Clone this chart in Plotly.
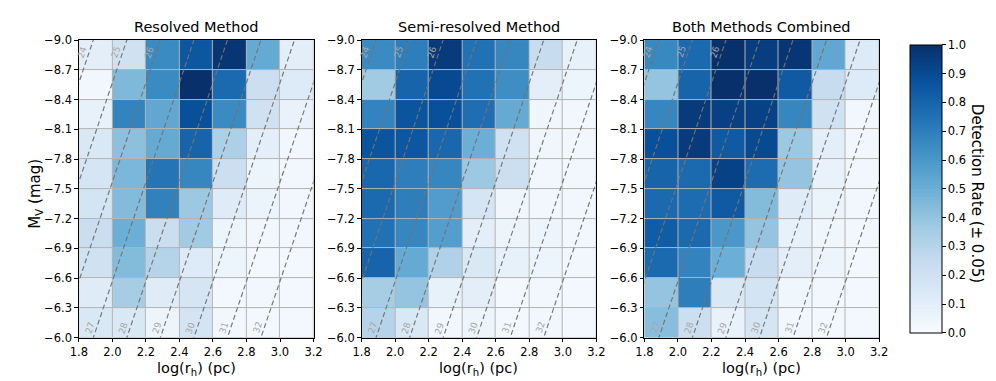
import plotly.graph_objects as go

# ---- data ----
x_edges = [1.8, 2.0, 2.2, 2.4, 2.6, 2.8, 3.0, 3.2]
x_centers = [1.9, 2.1, 2.3, 2.5, 2.7, 2.9, 3.1]
y_ticks = [-9.0, -8.7, -8.4, -8.1, -7.8, -7.5, -7.2, -6.9, -6.6, -6.3, -6.0]
y_centers = [-8.85, -8.55, -8.25, -7.95, -7.65, -7.35, -7.05, -6.75, -6.45, -6.15]

resolved = [
    [0.10, 0.20, 0.65, 0.85, 0.98, 0.52, 0.10],
    [0.03, 0.45, 0.65, 1.00, 0.78, 0.22, 0.13],
    [0.08, 0.68, 0.53, 0.88, 0.65, 0.20, 0.07],
    [0.15, 0.42, 0.52, 0.80, 0.33, 0.10, 0.03],
    [0.17, 0.46, 0.74, 0.67, 0.22, 0.05, 0.03],
    [0.18, 0.44, 0.69, 0.38, 0.12, 0.06, 0.03],
    [0.23, 0.50, 0.23, 0.37, 0.05, 0.03, 0.03],
    [0.20, 0.44, 0.30, 0.13, 0.05, 0.02, 0.02],
    [0.12, 0.35, 0.12, 0.17, 0.02, 0.03, 0.02],
    [0.15, 0.15, 0.05, 0.18, 0.03, 0.02, 0.02],
]
semi_resolved = [
    [0.65, 0.70, 0.96, 0.75, 0.67, 0.24, 0.08],
    [0.37, 0.80, 0.90, 0.75, 0.64, 0.10, 0.05],
    [0.68, 0.86, 0.88, 0.76, 0.52, 0.04, 0.03],
    [0.86, 0.85, 0.79, 0.50, 0.20, 0.04, 0.03],
    [0.79, 0.70, 0.67, 0.38, 0.22, 0.03, 0.03],
    [0.78, 0.70, 0.58, 0.17, 0.04, 0.03, 0.03],
    [0.75, 0.67, 0.57, 0.10, 0.05, 0.05, 0.03],
    [0.80, 0.52, 0.32, 0.15, 0.08, 0.05, 0.03],
    [0.35, 0.40, 0.08, 0.10, 0.02, 0.03, 0.02],
    [0.30, 0.15, 0.03, 0.05, 0.02, 0.03, 0.02],
]
combined = [
    [0.66, 0.78, 1.00, 0.95, 0.98, 0.53, 0.13],
    [0.40, 0.80, 1.00, 1.00, 0.84, 0.24, 0.13],
    [0.67, 0.96, 0.94, 0.93, 0.67, 0.20, 0.03],
    [0.88, 0.96, 0.84, 0.90, 0.38, 0.10, 0.03],
    [0.80, 0.78, 0.93, 0.77, 0.40, 0.07, 0.03],
    [0.78, 0.77, 0.84, 0.44, 0.12, 0.06, 0.03],
    [0.83, 0.78, 0.60, 0.40, 0.08, 0.04, 0.03],
    [0.78, 0.68, 0.50, 0.24, 0.10, 0.05, 0.02],
    [0.40, 0.70, 0.15, 0.18, 0.04, 0.03, 0.02],
    [0.43, 0.22, 0.07, 0.17, 0.03, 0.02, 0.02],
]
panel_titles = ["Resolved Method", "Semi-resolved Method", "Both Methods Combined"]
sb_levels = [24, 25, 26, 27, 28, 29, 30, 31, 32]   # surface brightness (mag/arcsec^2)
sb_top_labeled = [24, 25, 26]
sb_zero_point = 23.57                               # mu = M + 5 log(r_h) + zp
cbar_ticks = [0.0, 0.1, 0.2, 0.3, 0.4, 0.5, 0.6, 0.7, 0.8, 0.9, 1.0]

blues = [[0.0, "#f7fbff"], [0.125, "#deebf7"], [0.25, "#c6dbef"], [0.375, "#9ecae1"],
         [0.5, "#6baed6"], [0.625, "#4292c6"], [0.75, "#2171b5"], [0.875, "#08519c"],
         [1.0, "#08306b"]]

W, H = 996, 381
FONT = "DejaVu Sans"
TICK = 11.5
panel_px = [(63, 302), (351, 590), (639, 878)]
plot_top, plot_bot = 26, 335
ydom = [(H - plot_bot) / H, (H - plot_top) / H]

fig = go.Figure()
datasets = [resolved, semi_resolved, combined]
annotations = []
for i, z in enumerate(datasets):
    xa = "x" if i == 0 else f"x{i+1}"
    ya = "y" if i == 0 else f"y{i+1}"
    fig.add_trace(go.Heatmap(
        x=x_centers, y=y_centers, z=z, coloraxis="coloraxis",
        xgap=1, ygap=1, xaxis=xa, yaxis=ya, hoverinfo="skip"))
    for mu in sb_levels:
        xs = [1.5, 3.5]
        ms = [mu - sb_zero_point - 5 * x for x in xs]
        fig.add_trace(go.Scatter(
            x=xs, y=ms, mode="lines", xaxis=xa, yaxis=ya,
            line=dict(color="rgba(115,115,115,0.95)", width=1.2, dash="5px,3px"),
            showlegend=False, hoverinfo="skip"))
        m_lab = -8.88 if mu in sb_top_labeled else -6.1
        x_lab = (mu - sb_zero_point - m_lab) / 5
        annotations.append(dict(
            x=x_lab, y=m_lab, xref=xa, yref=ya, text=str(mu), showarrow=False,
            textangle=-71.6, xshift=-7, xanchor="center", yanchor="middle",
            font=dict(family=FONT, size=9, color="#a8a8a8")))
    x0, x1 = panel_px[i]
    axis_common = dict(showline=True, linecolor="black", linewidth=1, mirror=True,
                       ticks="outside", ticklen=3.5, tickwidth=0.8, tickcolor="black",
                       showgrid=False, zeroline=False,
                       tickfont=dict(family=FONT, size=TICK, color="black"))
    fig.update_layout(**{
        ("xaxis" if i == 0 else f"xaxis{i+1}"): dict(
            domain=[x0 / W, x1 / W], anchor=ya, range=[1.8, 3.2],
            tickvals=x_edges, ticktext=[f"{v:.1f}" for v in x_edges], **axis_common),
        ("yaxis" if i == 0 else f"yaxis{i+1}"): dict(
            domain=ydom, anchor=xa, range=[-6.0, -9.0],
            tickvals=y_ticks, ticktext=[f"{v:.1f}".replace("-", "\u2212") for v in y_ticks],
            **axis_common),
    })
    cx = (x0 + x1) / 2 / W
    annotations.append(dict(x=cx, y=(H - 12) / H, xref="paper", yref="paper",
                            text=panel_titles[i], showarrow=False,
                            xanchor="center", yanchor="middle",
                            font=dict(family=FONT, size=14.5, color="black")))
    annotations.append(dict(x=cx, y=(H - 367) / H, xref="paper", yref="paper",
                            text="log(r<sub>h</sub>) (pc)", showarrow=False,
                            xanchor="center", yanchor="middle",
                            font=dict(family=FONT, size=14.5, color="black")))

annotations.append(dict(x=18 / W, y=(H - 186) / H, xref="paper", yref="paper",
                        text="M<sub>V</sub> (mag)", showarrow=False, textangle=-90,
                        xanchor="center", yanchor="middle",
                        font=dict(family=FONT, size=15, color="black")))
annotations.append(dict(x=977 / W, y=(H - 185) / H, xref="paper", yref="paper",
                        text="Detection Rate (\u00b1 0.05)", showarrow=False, textangle=90,
                        xanchor="center", yanchor="middle",
                        font=dict(family=FONT, size=15, color="black")))

fig.update_layout(
    width=W, height=H, margin=dict(l=0, r=0, t=0, b=0),
    paper_bgcolor="white", plot_bgcolor="#b4b4b4",
    font=dict(family=FONT, size=TICK, color="black"),
    coloraxis=dict(
        cmin=0, cmax=1, colorscale=blues,
        colorbar=dict(
            x=909 / W, xanchor="left", xpad=0, ypad=0,
            y=(H - 180.5) / H, yanchor="middle", len=299 / H, lenmode="fraction",
            thickness=32, thicknessmode="pixels",
            outlinewidth=1, outlinecolor="black",
            ticks="outside", ticklen=3.5, tickwidth=0.8, tickcolor="black",
            tickvals=cbar_ticks, ticktext=[f"{v:.1f}" for v in cbar_ticks],
            tickfont=dict(family=FONT, size=TICK, color="black"))),
    annotations=annotations,
    showlegend=False,
)

fig.write_html("out.html")
